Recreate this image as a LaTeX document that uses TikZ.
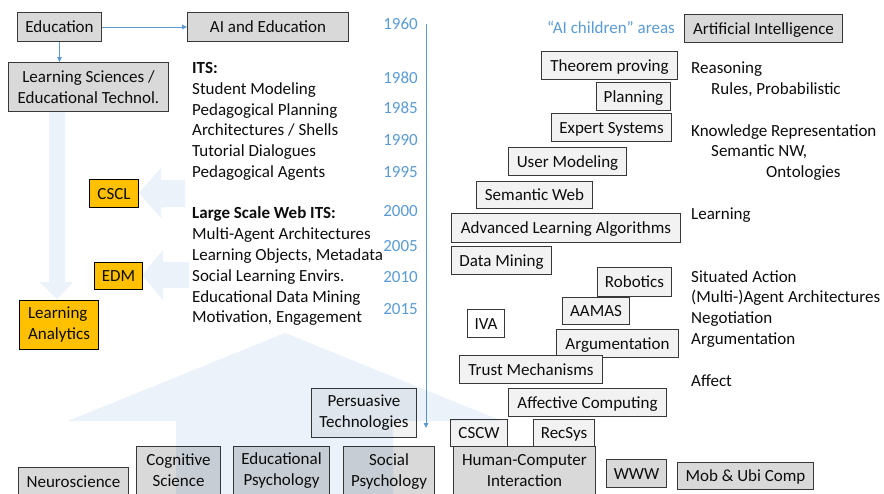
\documentclass[tikz,border=0pt]{standalone}
\usepackage{fontspec}
\setmainfont{Carlito}
\usetikzlibrary{arrows.meta}
\definecolor{boxgrey}{HTML}{D9D9D9}
\definecolor{boxlight}{HTML}{F2F2F2}
\definecolor{laorange}{HTML}{FFC000}
\definecolor{yearblue}{HTML}{5B9BD5}
\definecolor{bgblue}{HTML}{EBF2FA}
\definecolor{edgecol}{HTML}{383838}
\definecolor{txtcol}{HTML}{0D0D0D}
\newcommand\boxat[7]{%
  \pgfmathsetmacro\bxw{#5-#3}\pgfmathsetmacro\bxh{#6-#4}%
  \node[#1, anchor=north west, minimum width=\bxw pt, minimum height=\bxh pt, inner sep=0pt] (#2) at (#3,#4) {#7};}
\tikzset{
  every node/.style={font=\fontsize{17}{21}\selectfont, text=txtcol},
  basebox/.style={draw=edgecol, line width=1pt, align=center, text height=11.7pt, text depth=0.3pt},
  twolines/.style={text height=, text depth=},
  greybox/.style={basebox, fill=boxgrey},
  lightbox/.style={basebox, fill=boxlight},
  whitebox/.style={basebox, fill=white},
  orangebox/.style={basebox, fill=laorange, draw=black},
  txt/.style={anchor=base west, inner sep=0pt},
  boldtxt/.style={txt, font=\fontsize{17}{21}\selectfont\bfseries},
  year/.style={anchor=base east, inner sep=0pt, text=yearblue},
  bluearrow/.style={draw=yearblue, line width=0.8pt, -{Triangle[length=5pt,width=4.5pt]}},
  bgshape/.style={fill=bgblue}
}
\begin{document}
\begin{tikzpicture}[x=1pt,y=-1pt]
\clip (0,0) rectangle (884,493);
\fill[white] (0,0) rectangle (884,493);
% background arrows (left)
\fill[bgshape] (49,111) -- (65,111) -- (65,282) -- (73,282) -- (57,299) -- (40,282) -- (49,282) -- cycle;
\fill[bgshape] (185,180) -- (161,180) -- (161,168) -- (139,193) -- (161,218) -- (161,207) -- (185,207) -- cycle;
\fill[bgshape] (189,262) -- (163,262) -- (163,250) -- (142,275) -- (163,300) -- (163,288) -- (189,288) -- cycle;
% left column boxes
\boxat{greybox}{edu}{17}{12}{101}{41}{Education}
\boxat{greybox}{aied}{187}{12}{348}{41}{AI and Education}
\boxat{greybox,twolines}{ls}{8}{62}{168}{111}{Learning Sciences /\\Educational Technol.}
\boxat{orangebox}{cscl}{89}{179}{138}{207}{CSCL}
\boxat{orangebox}{edm}{94}{262}{142}{289}{EDM}
\boxat{orangebox,twolines,align=left}{la}{19}{300}{98}{349}{Learning\\Analytics}
\boxat{greybox}{neuro}{18}{467}{128}{496}{Neuroscience}
\boxat{greybox,twolines}{cogsci}{136}{446}{220}{494}{Cognitive\\Science}
\boxat{greybox,twolines}{edpsy}{233}{446}{329}{494}{Educational\\Psychology}
\boxat{greybox,twolines}{socpsy}{343}{446}{434}{496}{Social\\Psychology}
\boxat{lightbox,twolines}{pers}{311}{388}{416}{437}{Persuasive\\Technologies}
% connectors
\draw[bluearrow] (edu.east) -- (aied.west);
\draw[bluearrow] (edu.south) -- (edu.south |- ls.north);
% ITS list
\node[boldtxt] (its) at (192,73) {ITS:};
\node[txt] (its1) at (192,94) {Student Modeling};
\node[txt] (its2) at (192,115) {Pedagogical Planning};
\node[txt] (its3) at (192,135.5) {Architectures / Shells};
\node[txt] (its4) at (192,156) {Tutorial Dialogues};
\node[txt] (its5) at (192,177) {Pedagogical Agents};
\node[boldtxt] (web) at (192,218) {Large Scale Web ITS:};
\node[txt] (web1) at (192,239) {Multi-Agent Architectures};
\node[txt] (web2) at (192,260) {Learning Objects, Metadata};
\node[txt] (web3) at (192,281) {Social Learning Envirs.};
\node[txt] (web4) at (192,302) {Educational Data Mining};
\node[txt] (web5) at (192,322.5) {Motivation, Engagement};
% years
\node[year] (y1960) at (418,29) {1960};
\node[year] (y1980) at (418,83.5) {1980};
\node[year] (y1985) at (418,113.5) {1985};
\node[year] (y1990) at (418,145.5) {1990};
\node[year] (y1995) at (418,177.5) {1995};
\node[year] (y2000) at (418,216.5) {2000};
\node[year] (y2005) at (418,251.5) {2005};
\node[year] (y2010) at (418,282.5) {2010};
\node[year] (y2015) at (418,314.5) {2015};
\coordinate (tltop) at (426,24);
\coordinate (tlend) at (426,428);
\draw[bluearrow] (tltop) -- (tlend);
% right column
\node[year] (aichild) at (675,33.5) {“AI children” areas};
\boxat{greybox}{ai}{684}{14}{842}{42}{Artificial Intelligence}
\boxat{lightbox}{thm}{541}{51}{677}{79}{Theorem proving}
\boxat{lightbox}{plan}{596}{82}{670}{110}{Planning}
\boxat{lightbox}{expert}{551}{113}{671}{141}{Expert Systems}
\boxat{lightbox}{um}{508}{147}{626}{175}{User Modeling}
\boxat{lightbox}{sw}{476}{181}{592}{208}{Semantic Web}
\boxat{lightbox}{ala}{451}{213}{680}{242}{Advanced Learning Algorithms}
\boxat{lightbox}{dm}{451}{246}{551}{274}{Data Mining}
\boxat{lightbox}{rob}{597}{267}{671}{296}{Robotics}
\boxat{lightbox}{aamas}{562}{297}{629}{324}{AAMAS}
\boxat{whitebox}{iva}{467}{309}{504}{337}{IVA}
\boxat{lightbox}{arg}{556}{329}{678}{357}{Argumentation}
\boxat{lightbox}{trust}{459}{355}{602}{383}{Trust Mechanisms}
\boxat{lightbox}{aff}{508}{388}{666}{416}{Affective Computing}
\boxat{greybox,twolines}{hci}{453}{446}{595}{494}{Human-Computer\\Interaction}
\boxat{lightbox}{cscw}{450}{419}{507}{446}{CSCW}
\boxat{lightbox}{recsys}{533}{419}{594}{446}{RecSys}
\boxat{greybox}{www}{606}{459}{666}{487}{WWW}
\boxat{greybox}{mob}{677}{462}{813}{489}{Mob \& Ubi Comp}
% right labels
\node[txt] (r1) at (691,73.5) {Reasoning};
\node[txt] (r2) at (711,94) {Rules, Probabilistic};
\node[txt] (r3) at (691,136) {Knowledge Representation};
\node[txt] (r4) at (711,156.5) {Semantic NW,};
\node[txt] (r5) at (766,177) {Ontologies};
\node[txt] (r6) at (691,219) {Learning};
\node[txt] (r7) at (691,282) {Situated Action};
\node[txt] (r8) at (691,302.5) {(Multi-)Agent Architectures};
\node[txt] (r9) at (691,323.5) {Negotiation};
\node[txt] (r10) at (691,344) {Argumentation};
\node[txt] (r11) at (691,386) {Affect};
% big upward arrow overlay
\begin{scope}[blend mode=multiply]
\fill[bgshape] (176,500) -- (176,421) -- (68,421) -- (285,333) -- (502,421) -- (393,421) -- (393,500) -- cycle;
\end{scope}
\end{tikzpicture}
\end{document}
